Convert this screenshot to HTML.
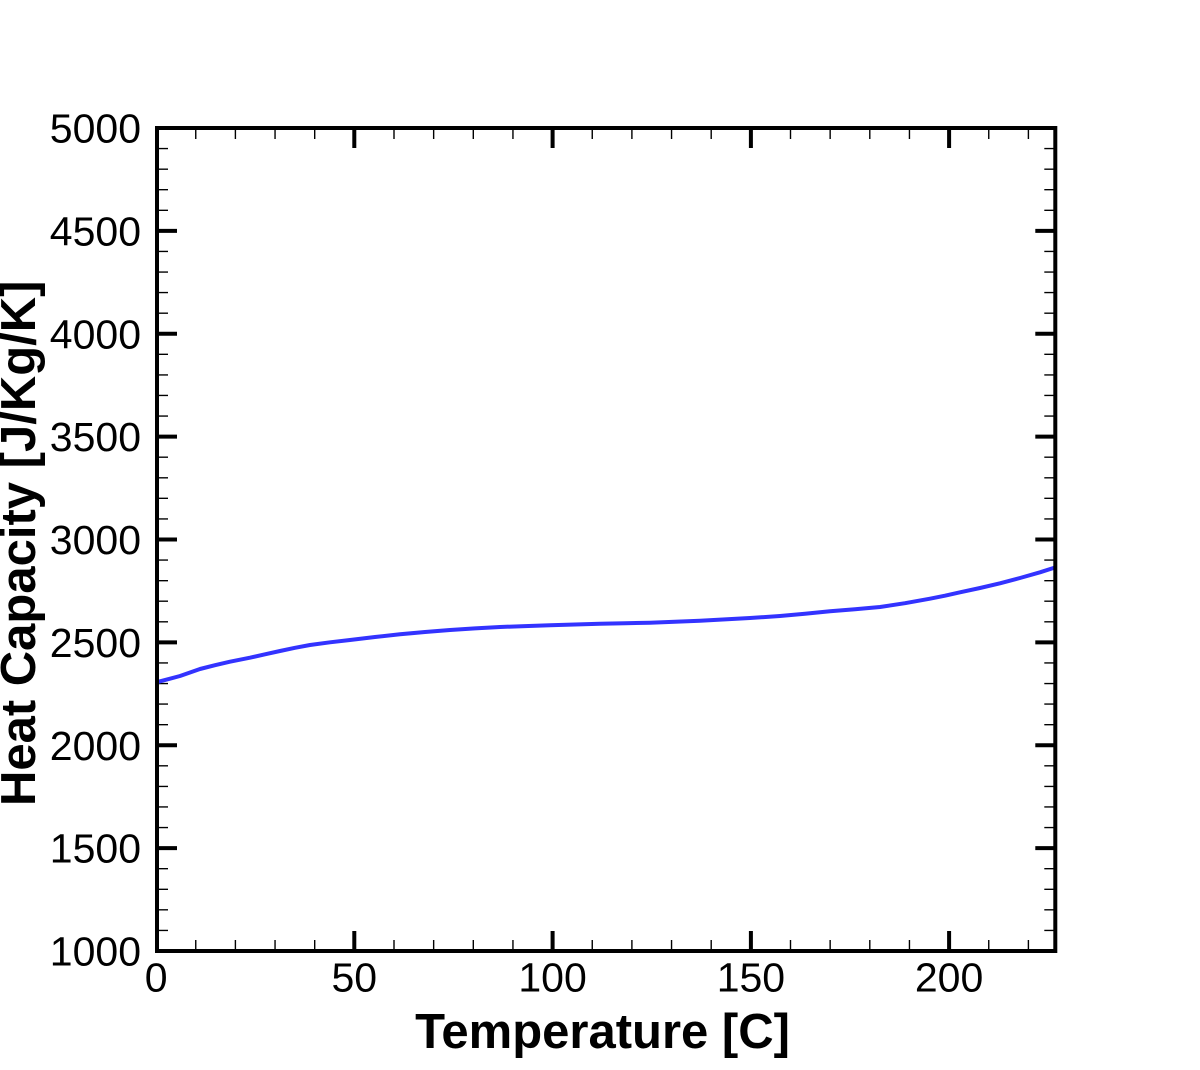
<!DOCTYPE html>
<html><head><meta charset="utf-8"><style>
html,body{margin:0;padding:0;background:#fff;}
svg{display:block;}
text{font-family:"Liberation Sans",Arial,sans-serif;fill:#000;}
</style></head><body>
<svg width="1200" height="1070" viewBox="0 0 1200 1070" xmlns="http://www.w3.org/2000/svg">
<rect x="0" y="0" width="1200" height="1070" fill="#fff"/>
<!-- minor ticks -->
<path fill="none" stroke="#000" stroke-width="1.4" d="
M195.75 951v-11M235.4 951v-11M275.05 951v-11M314.7 951v-11M394 951v-11M433.65 951v-11M473.3 951v-11M512.95 951v-11M592.25 951v-11M631.9 951v-11M671.55 951v-11M711.2 951v-11M790.5 951v-11M830.15 951v-11M869.8 951v-11M909.45 951v-11M988.75 951v-11M1028.4 951v-11
M195.75 128v11M235.4 128v11M275.05 128v11M314.7 128v11M394 128v11M433.65 128v11M473.3 128v11M512.95 128v11M592.25 128v11M631.9 128v11M671.55 128v11M711.2 128v11M790.5 128v11M830.15 128v11M869.8 128v11M909.45 128v11M988.75 128v11M1028.4 128v11
M157 930.43h11M157 909.85h11M157 889.28h11M157 868.7h11M157 827.55h11M157 806.98h11M157 786.4h11M157 765.83h11M157 724.68h11M157 704.1h11M157 683.53h11M157 662.95h11M157 621.8h11M157 601.23h11M157 580.65h11M157 560.08h11M157 518.93h11M157 498.35h11M157 477.78h11M157 457.2h11M157 416.05h11M157 395.48h11M157 374.9h11M157 354.33h11M157 313.18h11M157 292.6h11M157 272.03h11M157 251.45h11M157 210.3h11M157 189.73h11M157 169.15h11M157 148.58h11
M1055.3 930.43h-11M1055.3 909.85h-11M1055.3 889.28h-11M1055.3 868.7h-11M1055.3 827.55h-11M1055.3 806.98h-11M1055.3 786.4h-11M1055.3 765.83h-11M1055.3 724.68h-11M1055.3 704.1h-11M1055.3 683.53h-11M1055.3 662.95h-11M1055.3 621.8h-11M1055.3 601.23h-11M1055.3 580.65h-11M1055.3 560.08h-11M1055.3 518.93h-11M1055.3 498.35h-11M1055.3 477.78h-11M1055.3 457.2h-11M1055.3 416.05h-11M1055.3 395.48h-11M1055.3 374.9h-11M1055.3 354.33h-11M1055.3 313.18h-11M1055.3 292.6h-11M1055.3 272.03h-11M1055.3 251.45h-11M1055.3 210.3h-11M1055.3 189.73h-11M1055.3 169.15h-11M1055.3 148.58h-11
"/>
<!-- major ticks -->
<path fill="none" stroke="#000" stroke-width="4" d="
M354.3 951v-20M552.6 951v-20M750.9 951v-20M949.1 951v-20
M354.3 128v20M552.6 128v20M750.9 128v20M949.1 128v20
M157 230.9h20M157 333.75h20M157 436.6h20M157 539.5h20M157 642.4h20M157 745.25h20M157 848.1h20
M1055.3 230.9h-20M1055.3 333.75h-20M1055.3 436.6h-20M1055.3 539.5h-20M1055.3 642.4h-20M1055.3 745.25h-20M1055.3 848.1h-20
"/>
<!-- curve -->
<polyline fill="none" stroke="#3333ff" stroke-width="4" stroke-linejoin="round" points="
158,682 160,681.3 170,678.7 180,676 190,672.5 200,669 215,665.2 230,661.7 250,657.7 265,654.3 280,651 295,647.8 310,645 330,642.3 350,640 375,637 400,634.3 425,632 450,630 475,628.4 500,627 525,626.1 550,625.3 575,624.5 600,623.7 625,623.2 650,622.7 675,621.8 700,620.7 725,619.4 750,618 780,616 805,613.8 830,611.3 855,609.3 880,607 905,603.2 930,598.7 945,595.7 960,592.3 980,588 1000,583.3 1020,578 1040,572.3 1055,567.5"/>
<!-- frame -->
<rect x="157" y="128" width="898.3" height="823" fill="none" stroke="#000" stroke-width="4"/>
<!-- y tick labels -->
<g font-size="41" text-anchor="end">
<text x="141" y="142.6">5000</text>
<text x="141" y="245.5">4500</text>
<text x="141" y="348.4">4000</text>
<text x="141" y="451.2">3500</text>
<text x="141" y="554.1">3000</text>
<text x="141" y="657">2500</text>
<text x="141" y="759.9">2000</text>
<text x="141" y="862.7">1500</text>
<text x="141" y="965.6">1000</text>
</g>
<!-- x tick labels -->
<g font-size="41" text-anchor="middle">
<text x="156.1" y="991.7">0</text>
<text x="354.3" y="991.7">50</text>
<text x="552.6" y="991.7">100</text>
<text x="750.9" y="991.7">150</text>
<text x="949.1" y="991.7">200</text>
</g>
<!-- axis titles -->
<text x="602.5" y="1048" font-size="49" font-weight="bold" text-anchor="middle">Temperature [C]</text>
<text transform="translate(35,543.3) rotate(-90)" font-size="49" font-weight="bold" text-anchor="middle">Heat Capacity [J/Kg/K]</text>
</svg>
</body></html>
